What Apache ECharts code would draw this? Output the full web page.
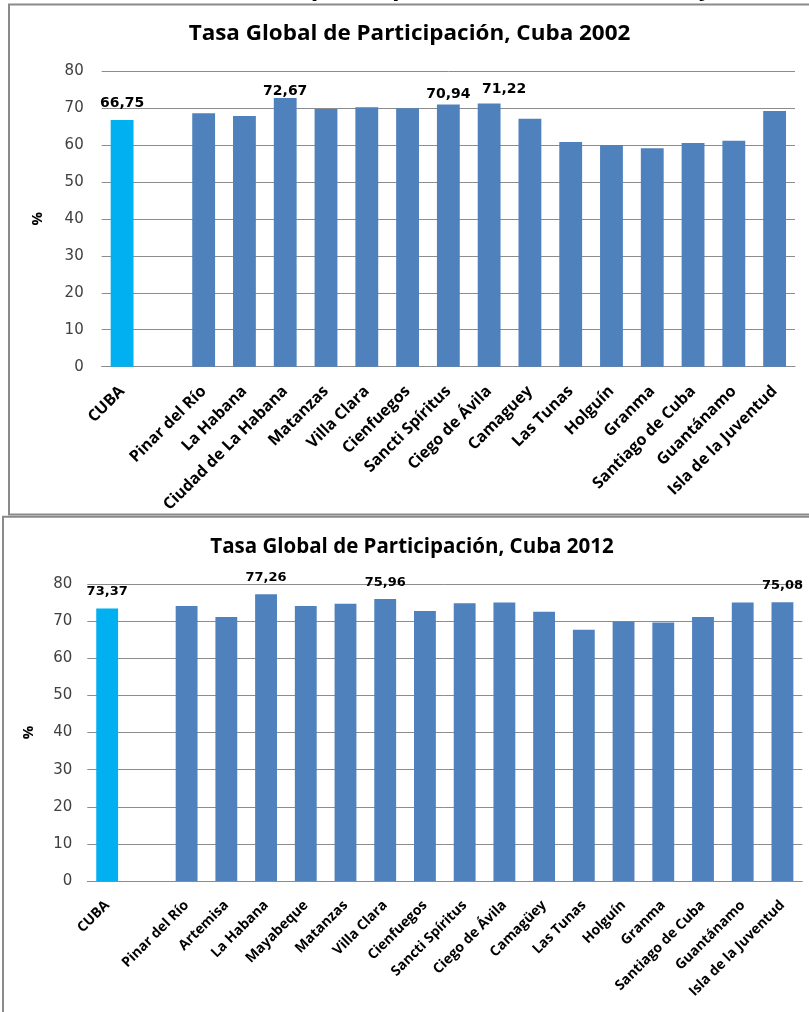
<!DOCTYPE html>
<html>
<head>
<meta charset="utf-8">
<script src="https://cdn.jsdelivr.net/npm/echarts@6/dist/echarts.min.js"></script>
<style>
  html, body { margin: 0; padding: 0; background: #fff; }
  #chart { width: 809px; height: 1012px; }
</style>
</head>
<body>
<div id="chart"></div>
<script>
// 2002
const cats2002 = ['CUBA', '', 'Pinar del Río', 'La Habana', 'Ciudad de La Habana', 'Matanzas', 'Villa Clara',
  'Cienfuegos', 'Sancti Spíritus', 'Ciego de Ávila', 'Camaguey', 'Las Tunas', 'Holguín', 'Granma',
  'Santiago de Cuba', 'Guantánamo', 'Isla de la Juventud'];
const vals2002 = [66.75, null, 68.6, 67.8, 72.67, 69.7, 70.2, 69.9, 70.94, 71.22, 67.1, 60.8, 60.0, 59.1, 60.5, 61.1, 69.2];
const shown2002 = [0, 4, 8, 9];

// 2012
const cats2012 = ['CUBA', '', 'Pinar del Río', 'Artemisa', 'La Habana', 'Mayabeque', 'Matanzas', 'Villa Clara',
  'Cienfuegos', 'Sancti Spíritus', 'Ciego de Ávila', 'Camagüey', 'Las Tunas', 'Holguín', 'Granma',
  'Santiago de Cuba', 'Guantánamo', 'Isla de la Juventud'];
const vals2012 = [73.37, null, 74.1, 71.1, 77.26, 74.1, 74.7, 75.96, 72.7, 74.8, 75.0, 72.5, 67.7, 69.9, 69.6, 71.1, 75.0, 75.08];
const shown2012 = [0, 4, 7, 17];

const yTicks = [0, 10, 20, 30, 40, 50, 60, 70, 80];

const BLUE = '#4F81BD', CYAN = '#00B0F0', GRID = '#8c8c8c';
const fmt = (v) => v.toFixed(2).replace('.', ',');

// label offsets tuned to the picture (distance above bar, x shift)
const labelPos2002 = { 0: [10, 0], 4: [0, 0], 8: [3, 0], 9: [7, 15] };
const labelPos2012 = { 0: [10, 0], 4: [10, 0], 7: [10, 0], 17: [10, 0] };

function barData(vals, shown, pos, fontSize) {
  return vals.map((v, i) => {
    const on = shown.includes(i);
    return {
      value: v,
      itemStyle: { color: i === 0 ? CYAN : BLUE },
      label: {
        show: on,
        position: 'top',
        distance: on ? pos[i][0] : 5,
        offset: on ? [pos[i][1], 0] : [0, 0],
        formatter: (p) => fmt(p.value),
        fontFamily: 'DejaVu Sans',
        fontWeight: 'bold',
        fontSize: fontSize,
        color: '#000'
      }
    };
  });
}

function xAxisFor(cats, idx, fontSize) {
  return {
    type: 'category', gridIndex: idx, data: cats,
    axisLine: { lineStyle: { color: GRID, width: 1 } },
    axisTick: { show: false },
    axisLabel: {
      interval: 0, rotate: 45, margin: 22,
      fontFamily: 'Open Sans', fontWeight: 'bold', fontSize: fontSize, color: '#000'
    }
  };
}

function yAxisFor(idx, margin, nameGap) {
  return {
    type: 'value', gridIndex: idx, min: yTicks[0], max: yTicks[yTicks.length - 1], interval: 10,
    name: '%', nameLocation: 'middle', nameGap: nameGap,
    nameTextStyle: { fontFamily: 'Open Sans', fontWeight: 'bold', fontSize: 15, color: '#000' },
    axisLine: { show: false },
    axisTick: { show: false },
    axisLabel: { margin: margin, fontFamily: 'DejaVu Sans', fontSize: 15, color: '#404040' },
    splitLine: { lineStyle: { color: GRID, width: 1 } }
  };
}

const chart = echarts.init(document.getElementById('chart'), null, { renderer: 'canvas' });
chart.setOption({
  animation: false,
  grid: [
    { left: 101.7, top: 71, width: 693.3, height: 295.7, outerBoundsMode: 'none' },
    { left: 87.3, top: 584, width: 715, height: 297, outerBoundsMode: 'none' }
  ],
  xAxis: [xAxisFor(cats2002, 0, 16), xAxisFor(cats2012, 1, 14)],
  yAxis: [yAxisFor(0, 18, 56), yAxisFor(1, 15, 51)],
  series: [
    { type: 'bar', xAxisIndex: 0, yAxisIndex: 0, barWidth: '56%', data: barData(vals2002, shown2002, labelPos2002, 14) },
    { type: 'bar', xAxisIndex: 1, yAxisIndex: 1, barWidth: '55%', data: barData(vals2012, shown2012, labelPos2012, 13) }
  ],
  graphic: [
    // cut-off heading above the first chart (only its lowest pixels show)
    { type: 'text', x: 210, y: -25, z: 1, style: { text: 'Tasa de participación (%) en Cuba 2002 y 2012', fontFamily: 'Open Sans', fontWeight: 'bold', fontSize: 25, fill: '#000', verticalAlign: 'top' } },
    // the pasted chart covers the rest of that heading
    { type: 'rect', z: 2, shape: { x: 9, y: 4.5, width: 830, height: 18 }, style: { fill: '#fff' } },
    // frames of the two pasted charts
    { type: 'rect', z: 3, shape: { x: 9, y: 4.5, width: 830, height: 510 }, style: { fill: 'none', stroke: '#8a8a8a', lineWidth: 2 } },
    { type: 'rect', z: 3, shape: { x: 3, y: 516.7, width: 830, height: 520 }, style: { fill: 'none', stroke: '#8a8a8a', lineWidth: 2 } },
    { type: 'text', x: 409.5, y: 24, z: 3, scaleX: 1.095, originX: 0, style: { text: 'Tasa Global de Participación, Cuba 2002', fontFamily: 'Open Sans', fontWeight: 'bold', fontSize: 20.5, fill: '#000', align: 'center' } },
    { type: 'text', x: 412, y: 537, z: 3, style: { text: 'Tasa Global de Participación, Cuba 2012', fontFamily: 'Open Sans', fontWeight: 'bold', fontSize: 20.5, fill: '#000', align: 'center' } }
  ]
});
</script>
</body>
</html>
